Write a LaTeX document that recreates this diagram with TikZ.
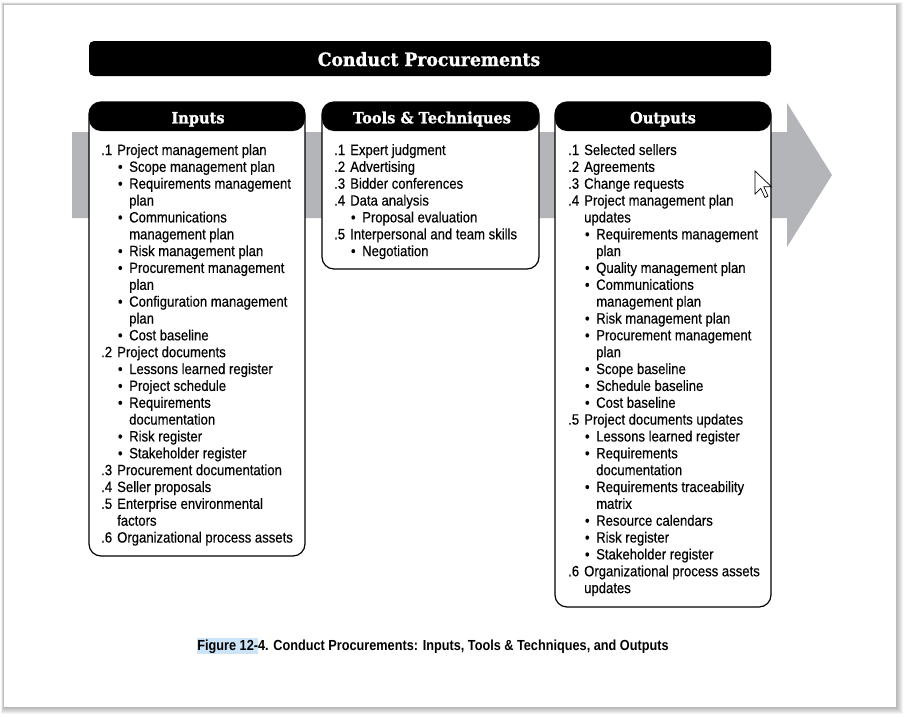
\documentclass[tikz,border=0pt]{standalone}
\usepackage{fontspec}
\setmainfont{Liberation Sans}
\newfontfamily\bodyfont[FakeStretch=0.88,FakeBold=0.4]{Liberation Sans}
\newfontfamily\slabfont[FakeStretch=0.94,FakeBold=1.2]{DejaVu Serif}
\newfontfamily\capfont[FakeStretch=0.87]{Liberation Sans}
\definecolor{bandgray}{RGB}{180,181,184}
\definecolor{selblue}{RGB}{204,228,247}

% list line helpers: numbered item, its continuation, bullet, bullet continuation
\newcommand\itN[2]{\makebox[16pt][l]{#1}#2}
\newcommand\itC[1]{\hspace*{16pt}#1}
\newcommand\itB[1]{\hspace*{16.8pt}\makebox[11.2pt][l]{\textbullet}#1}
\newcommand\itBC[1]{\hspace*{28pt}#1}

\tikzset{
  panel/.style={draw=black, line width=1.2pt, fill=white, rounded corners=12pt,
    inner sep=0pt,
    path picture={\fill[black] ([yshift=2pt]path picture bounding box.north west)
      rectangle ([yshift=-29pt]path picture bounding box.north east);}},
  headtext/.style={text=white, inner sep=0pt, anchor=base,
    font=\slabfont\bfseries\fontsize{15.5}{18}\selectfont},
  titlebar/.style={fill=black, rounded corners=5pt, inner sep=0pt},
  titletext/.style={text=white, inner sep=0pt, anchor=base,
    font=\slabfont\bfseries\fontsize{18.3}{20}\selectfont},
  itemtext/.style={font=\bodyfont\fontsize{14.9}{16.85}\selectfont, inner sep=0pt,
    anchor=base west},
  captext/.style={font=\capfont\bfseries\fontsize{14.6}{17}\selectfont, inner sep=0pt,
    anchor=base},
}

\begin{document}
\begin{tikzpicture}[x=1pt,y=-1pt]
\useasboundingbox (0,0) rectangle (905,716);

% sheet with soft drop shadow
\fill[white] (0,0) rectangle (905,716);
\foreach \i in {1,...,7}
  \fill[black, opacity=0.045] ({4-\i*0.4},{5-\i*0.4}) rectangle ({896+\i},{707+\i});
\fill[white] (4,5) rectangle (896,707);

% process flow arrow behind the panels
\fill[bandgray] (72,132) -- (787,132) -- (787,103) -- (832,175) -- (787,247)
  -- (787,218) -- (72,218) -- cycle;

% title bar
\node[titlebar, minimum width=682pt, minimum height=35pt] (title) at (430,58.5) {};
\node[titletext] (titletext) at (429,66) {Conduct Procurements};

% panels
\node[panel, minimum width=216pt, minimum height=454pt] (inbox) at (197,329) {};
\node[panel, minimum width=217pt, minimum height=167pt] (ttbox) at (430.5,185.5) {};
\node[panel, minimum width=216pt, minimum height=505pt] (outbox) at (663,354.5) {};

\node[headtext] (inhead) at (198,123.3) {Inputs};
\node[headtext] (tthead) at (432,123.3) {Tools \& Techniques};
\node[headtext] (outhead) at (663,123.3) {Outputs};

% Inputs
\foreach \t [count=\i from 0] in {
  {\itN{.1}{Project management plan}},
  {\itB{Scope management plan}},
  {\itB{Requirements management}},
  {\itBC{plan}},
  {\itB{Communications}},
  {\itBC{management plan}},
  {\itB{Risk management plan}},
  {\itB{Procurement management}},
  {\itBC{plan}},
  {\itB{Configuration management}},
  {\itBC{plan}},
  {\itB{Cost baseline}},
  {\itN{.2}{Project documents}},
  {\itB{Lessons learned register}},
  {\itB{Project schedule}},
  {\itB{Requirements}},
  {\itBC{documentation}},
  {\itB{Risk register}},
  {\itB{Stakeholder register}},
  {\itN{.3}{Procurement documentation}},
  {\itN{.4}{Seller proposals}},
  {\itN{.5}{Enterprise environmental}},
  {\itC{factors}},
  {\itN{.6}{Organizational process assets}}}
  \node[itemtext] (in-\i) at (101,{155+16.85*\i}) {\t};

% Tools & Techniques
\foreach \t [count=\i from 0] in {
  {\itN{.1}{Expert judgment}},
  {\itN{.2}{Advertising}},
  {\itN{.3}{Bidder conferences}},
  {\itN{.4}{Data analysis}},
  {\itB{Proposal evaluation}},
  {\itN{.5}{Interpersonal and team skills}},
  {\itB{Negotiation}}}
  \node[itemtext] (tt-\i) at (334,{155+16.85*\i}) {\t};

% Outputs
\foreach \t [count=\i from 0] in {
  {\itN{.1}{Selected sellers}},
  {\itN{.2}{Agreements}},
  {\itN{.3}{Change requests}},
  {\itN{.4}{Project management plan}},
  {\itC{updates}},
  {\itB{Requirements management}},
  {\itBC{plan}},
  {\itB{Quality management plan}},
  {\itB{Communications}},
  {\itBC{management plan}},
  {\itB{Risk management plan}},
  {\itB{Procurement management}},
  {\itBC{plan}},
  {\itB{Scope baseline}},
  {\itB{Schedule baseline}},
  {\itB{Cost baseline}},
  {\itN{.5}{Project documents updates}},
  {\itB{Lessons learned register}},
  {\itB{Requirements}},
  {\itBC{documentation}},
  {\itB{Requirements traceability}},
  {\itBC{matrix}},
  {\itB{Resource calendars}},
  {\itB{Risk register}},
  {\itB{Stakeholder register}},
  {\itN{.6}{Organizational process assets}},
  {\itC{updates}}}
  \node[itemtext] (out-\i) at (568,{155+16.85*\i}) {\t};

% pointer
\draw[fill=white, line width=0.7pt, line join=miter]
  (755,171) -- (755,194) -- (760.8,188.4) -- (765,197.5) -- (768,196) -- (763.8,186.8)
  -- (771.5,186.8) -- cycle;

% caption
\node[captext] (caption) at (433,650.7)
  {{\setlength\fboxsep{0pt}\colorbox{selblue}{\rule[-3.5pt]{0pt}{16pt}Figure 12-}}4. Conduct Procurements: Inputs, Tools \& Techniques, and Outputs};
\end{tikzpicture}
\end{document}
